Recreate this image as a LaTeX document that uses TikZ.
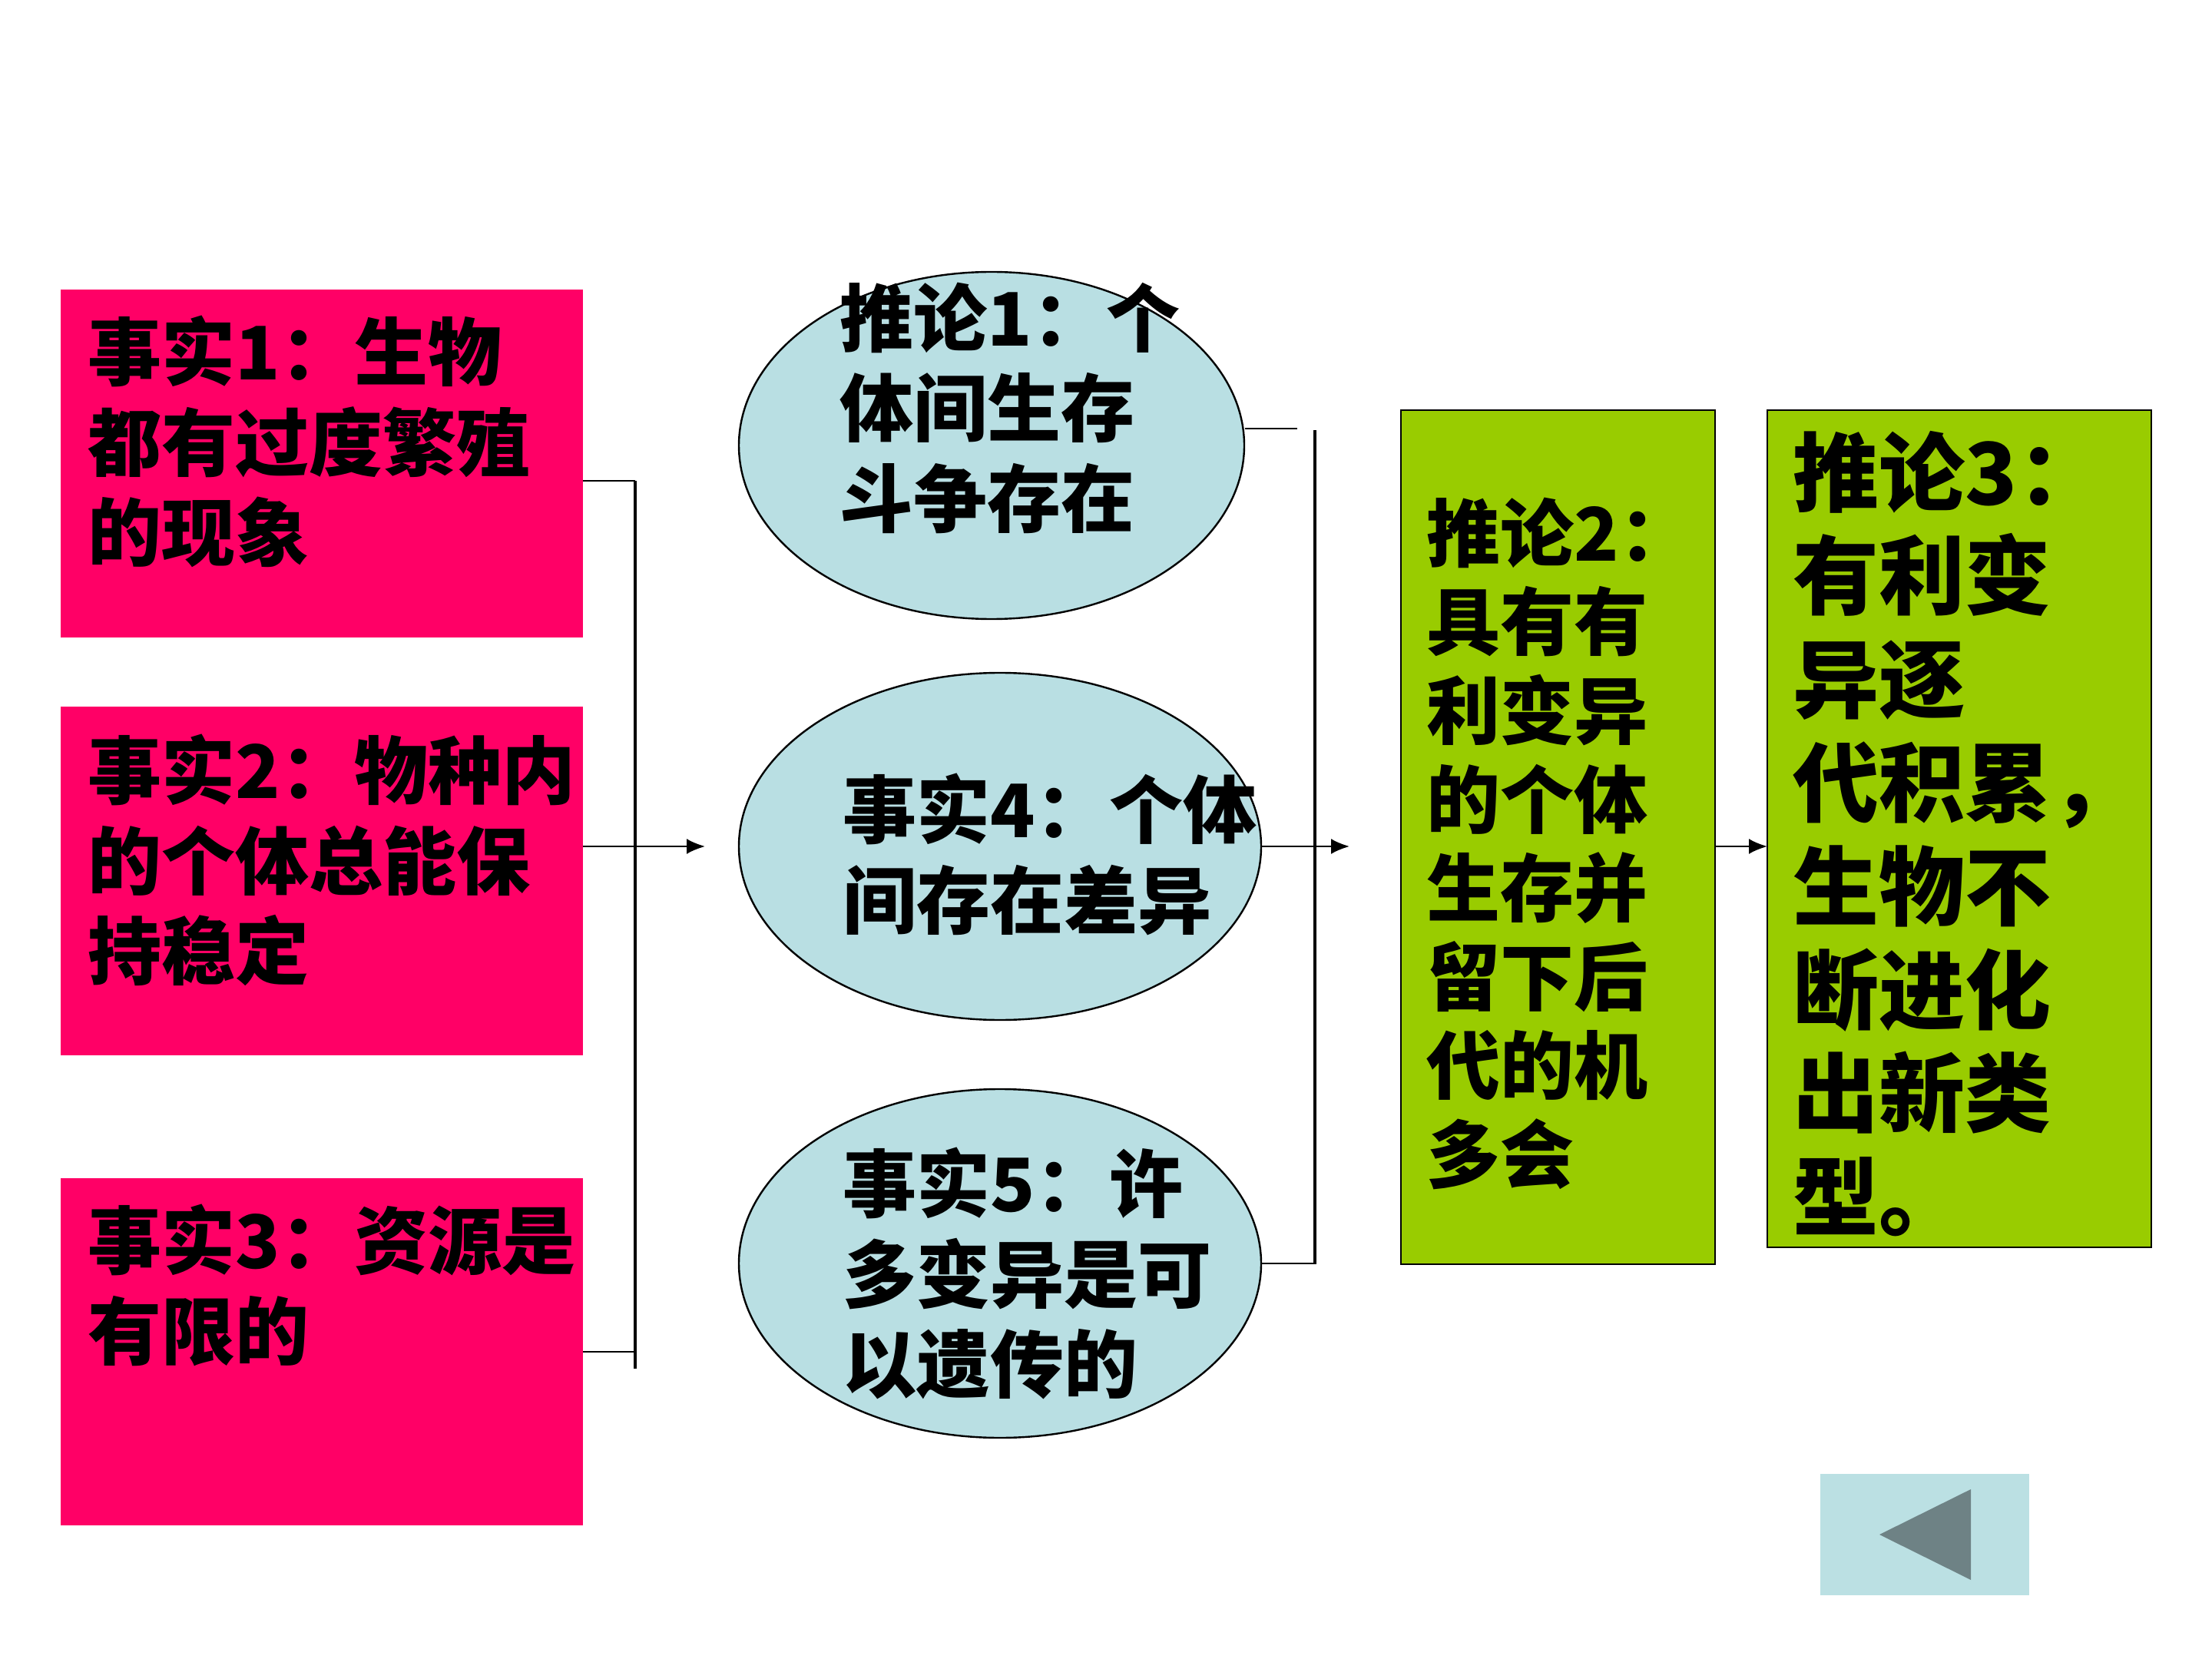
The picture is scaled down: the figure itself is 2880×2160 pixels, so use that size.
\documentclass[tikz,border=0pt]{standalone}
\usepackage{fontspec}
\newfontfamily\cjk{Noto Sans CJK SC}
\usetikzlibrary{arrows.meta}
\definecolor{pinkc}{HTML}{FF0066}
\definecolor{bluec}{HTML}{B9DFE3}
\definecolor{greenc}{HTML}{99CC00}
\definecolor{btnc}{HTML}{BBE0E3}
\definecolor{tric}{HTML}{6E8285}
\tikzset{
  pinkbox/.style={rectangle, fill=pinkc, inner sep=0pt, outer sep=0pt, minimum width=170pt},
  oval/.style={ellipse, draw=black, line width=0.6pt, fill=bluec, inner sep=0pt, outer sep=0pt},
  greenbox/.style={rectangle, draw=black, line width=0.7pt, fill=greenc, inner sep=0pt, outer sep=0pt},
  txt/.style={anchor=north west, align=left, inner sep=0pt, font=\cjk\bfseries\fontsize{24}{29.4}\selectfont},
  bigtxt/.style={anchor=north west, align=left, inner sep=0pt, font=\cjk\bfseries\fontsize{28}{33.7}\selectfont},
  conn/.style={line width=0.6pt},
  bar/.style={line width=1pt},
  arr/.style={line width=0.6pt, -{Latex[length=6pt,width=5pt]}}
}
\usetikzlibrary{shapes.geometric}
\begin{document}
\begin{tikzpicture}[x=0.25pt, y=-0.25pt]
\useasboundingbox[fill=white] (0,0) rectangle (2880,2160);

% pink boxes
\node[pinkbox, minimum height=113.25pt] (p1) at (419,603.5) {};
\node[pinkbox, minimum height=113.5pt] (p2) at (419,1147) {};
\node[pinkbox, minimum height=113pt] (p3) at (419,1760) {};
\node[txt] (tp1) at (114,410) {事实1：生物\\都有过度繁殖\\的现象};
\node[txt] (tp2) at (114,955) {事实2：物种内\\的个体总能保\\持稳定};
\node[txt] (tp3) at (114,1567) {事实3：资源是\\有限的};

% ellipses
\node[oval, minimum width=164.5pt, minimum height=113pt] (e1) at (1291,580) {};
\node[oval, minimum width=170pt, minimum height=113pt] (e2) at (1302,1102) {};
\node[oval, minimum width=170pt, minimum height=113.5pt] (e3) at (1302,1645) {};
\node[txt] (te1) at (1093,367) {推论1：个\\体间生存\\斗争存在};
\node[txt] (te2) at (1097,1006) {事实4：个体\\间存在差异};
\node[txt] (te3) at (1097,1493) {事实5：许\\多变异是可\\以遗传的};

% green boxes
\node[greenbox, minimum width=102.25pt, minimum height=278pt] (g1) at (2028.5,1090) {};
\node[greenbox, minimum width=125pt, minimum height=272.5pt] (g2) at (2551,1079) {};
\node[txt, font=\cjk\bfseries\fontsize{24}{28.9}\selectfont] (tg1) at (1857,647) {推论2：\\具有有\\利变异\\的个体\\生存并\\留下后\\代的机\\多会};
\node[bigtxt] (tg2) at (2334,560) {推论3：\\有利变\\异逐\\代积累，\\生物不\\断进化\\出新类\\型。};

% left bracket
\coordinate (lt) at (827,626);
\coordinate (lm) at (827,1102);
\coordinate (lb) at (827,1782);
\coordinate (l3) at (827,1760);
\coordinate (la) at (918,1102);
\draw[bar] (lt) -- (lb);
\draw[conn] (p1.east |- lt) -- (lt);
\draw[conn] (p3.east |- l3) -- (l3);
\draw[arr] (p2.east |- lm) -- (la);

% right bracket
\coordinate (rt) at (1712,560);
\coordinate (rb) at (1712,1646);
\coordinate (r1) at (1689,558);
\coordinate (ra) at (1757,1102);
\draw[bar] (rt) -- (rb);
\draw[conn] (1621,558) -- (r1);
\draw[arr] (e2.east) -- (ra);
\draw[conn] (e3.east) -- (e3.east -| rb);

% green to green
\draw[arr] (g1.east |- ra) -- (g2.west |- ra);

% back button
\node[rectangle, fill=btnc, inner sep=0pt, minimum width=68pt, minimum height=39.5pt] (btn) at (2506,1998) {};
\fill[tric] (2447,1998) -- (2566,1939) -- (2566,2057) -- cycle;
\end{tikzpicture}
\end{document}
